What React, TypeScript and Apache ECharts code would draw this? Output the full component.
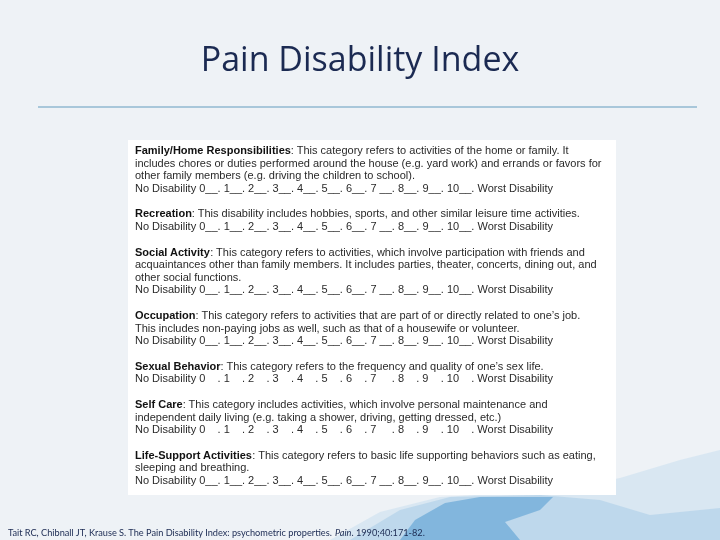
import React, { useEffect, useRef } from "react";
import * as echarts from "echarts";

const titleText = "Pain Disability Index";
const categoryNames = [
  "Family/Home Responsibilities",
  "Recreation",
  "Social Activity",
  "Occupation",
  "Sexual Behavior",
  "Self Care",
  "Life-Support Activities",
];
const categoryDescriptions = [
  [
    ": This category refers to activities of the home or family. It",
    "includes chores or duties performed around the house (e.g. yard work) and errands or favors for",
    "other family members (e.g. driving the children to school).",
  ],
  [": This disability includes hobbies, sports, and other similar leisure time activities."],
  [
    ": This category refers to activities, which involve participation with friends and",
    "acquaintances other than family members. It includes parties, theater, concerts, dining out, and",
    "other social functions.",
  ],
  [
    ": This category refers to activities that are part of or directly related to one\u2019s job.",
    "This includes non-paying jobs as well, such as that of a housewife or volunteer.",
  ],
  [": This category refers to the frequency and quality of one\u2019s sex life."],
  [
    ": This category includes activities, which involve personal maintenance and",
    "independent daily living (e.g. taking a shower, driving, getting dressed, etc.)",
  ],
  [
    ": This category refers to basic life supporting behaviors such as eating,",
    "sleeping and breathing.",
  ],
];
const blankScale = [false, false, false, false, true, true, false];
const scaleValues = ["0", "1", "2", "3", "4", "5", "6", "7 ", "8", "9", "10"];
const scaleLow = "No Disability";
const scaleHigh = "Worst Disability";
const citation = [
  "Tait RC, Chibnall JT, Krause S. The Pain Disability Index: psychometric properties. ",
  "Pain",
  ". 1990;40:171-82.",
];

function scaleLine(blank: boolean) {
  const fill = blank ? "    " : "__";
  return (
    scaleLow +
    " " +
    scaleValues.map((v) => v + fill).join(". ") +
    ". " +
    scaleHigh
  );
}

export default function App() {
  const ref = useRef<HTMLDivElement>(null);
  useEffect(() => {
    if (!ref.current) return;
    const chart = echarts.init(ref.current, null, { renderer: "svg" });
    const boxFont = "11px 'Liberation Sans', Arial, sans-serif";
    const elements: any[] = [];

    // background
    elements.push({
      type: "rect",
      shape: { x: 0, y: 0, width: 720, height: 540 },
      style: { fill: "#eef2f6" },
      z: 0,
    });
    // watercolor wash
    elements.push({
      type: "polygon",
      shape: {
        points: [
          [330, 540], [380, 512], [440, 497], [560, 490], [620, 478], [680, 460], [720, 450], [720, 540],
        ],
      },
      style: { fill: "rgba(185,215,238,0.4)" },
      z: 1,
    });
    elements.push({
      type: "polygon",
      shape: {
        points: [
          [350, 540], [400, 510], [450, 497], [540, 495], [600, 500], [650, 515], [720, 508], [720, 540],
        ],
      },
      style: { fill: "rgba(150,195,228,0.4)" },
      z: 2,
    });
    elements.push({
      type: "polygon",
      shape: {
        points: [
          [400, 540], [415, 520], [445, 503], [480, 497], [553, 497], [540, 510], [505, 522], [520, 540],
        ],
      },
      style: { fill: "rgba(90,160,212,0.6)" },
      z: 3,
    });

    // title
    elements.push({
      type: "text",
      x: 360,
      y: 75,
      style: {
        text: titleText,
        font: "34px 'Open Sans', Lato, sans-serif",
        fill: "#1b2a52",
        textAlign: "center",
        textVerticalAlign: "bottom",
      },
      z: 10,
    });
    elements.push({
      type: "line",
      shape: { x1: 38, y1: 107, x2: 697, y2: 107 },
      style: { stroke: "#a8c7da", lineWidth: 2 },
      z: 10,
    });

    // white box
    elements.push({
      type: "rect",
      shape: { x: 128, y: 140, width: 488, height: 355 },
      style: { fill: "#ffffff" },
      z: 5,
    });

    const lineH = 12.6;
    const gap = 13.0;
    let y = 150;
    categoryNames.forEach((name, i) => {
      const desc = categoryDescriptions[i];
      desc.forEach((d, j) => {
        elements.push({
          type: "text",
          x: 135,
          y,
          style: {
            text: j === 0 ? "{b|" + name + "}" + d : d,
            font: boxFont,
            fill: "#2a2a2a",
            textVerticalAlign: "middle",
            rich: {
              b: { font: "bold " + boxFont, fill: "#111111" },
            },
          },
          z: 10,
        });
        y += lineH;
      });
      elements.push({
        type: "text",
        x: 135,
        y,
        style: {
          text: scaleLine(blankScale[i]),
          font: boxFont,
          fill: "#2a2a2a",
          textVerticalAlign: "middle",
        },
        z: 10,
      });
      y += lineH + gap;
    });

    // citation
    elements.push({
      type: "text",
      x: 8,
      y: 532,
      style: {
        text: citation[0] + "{i|" + citation[1] + "}" + citation[2],
        font: "9.2px Lato, 'Open Sans', sans-serif",
        fill: "#1b2a52",
        textVerticalAlign: "middle",
        rich: { i: { font: "italic 9.2px Lato, 'Open Sans', sans-serif", fill: "#1b2a52" } },
      },
      z: 10,
    });

    chart.setOption({
      animation: false,
      graphic: { elements },
    });
    return () => chart.dispose();
  }, []);
  return (
    <div
      ref={ref}
      style={{ position: "fixed", left: 0, top: 0, width: 720, height: 540 }}
    />
  );
}
